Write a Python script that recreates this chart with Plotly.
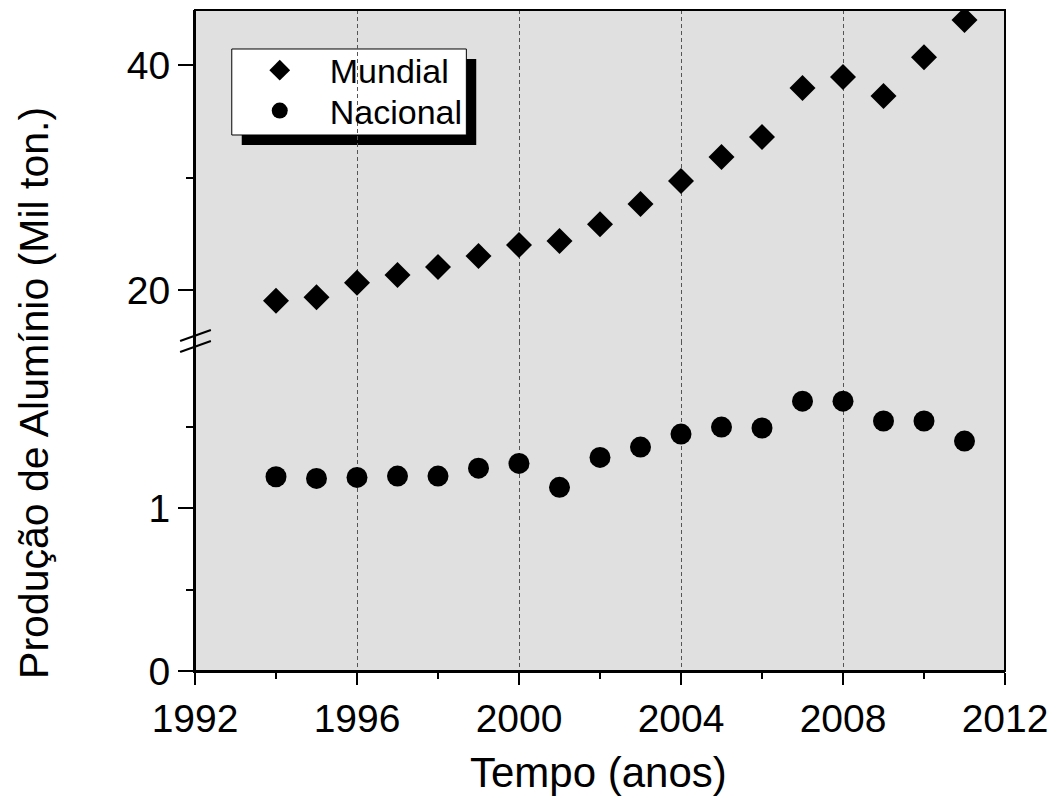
import plotly.graph_objects as go

# Annual aluminium production (thousand tonnes scale as labelled)
anos = [1994, 1995, 1996, 1997, 1998, 1999, 2000, 2001, 2002,
        2003, 2004, 2005, 2006, 2007, 2008, 2009, 2010, 2011]
mundial = [19.05, 19.35, 20.65, 21.33, 22.04, 23.02, 24.0, 24.36, 25.84,
           27.64, 29.69, 31.82, 33.6, 37.96, 38.93, 37.24, 40.68, 44.0]
nacional = [1.192, 1.182, 1.188, 1.196, 1.196, 1.245, 1.274, 1.127, 1.311,
            1.374, 1.454, 1.497, 1.491, 1.656, 1.656, 1.534, 1.534, 1.411]

x_ticks = [1992, 1996, 2000, 2004, 2008, 2012]
y_low_ticks = [0, 1]
y_low_minor = [0.5, 1.5]
y_high_ticks = [20, 40]
y_high_minor = [30]

FONT = "Liberation Sans, Arial, sans-serif"
BREAK = 0.4992          # fraction of plot height where the axis is broken
LOW_RANGE = [0, 2.025]
HIGH_RANGE = [15.47, 44.89]

fig = go.Figure()
fig.add_trace(go.Scatter(
    x=anos, y=mundial, mode="markers", name="Mundial",
    marker=dict(symbol="diamond", size=20, color="black"),
    xaxis="x", yaxis="y2", legend="legend"))
fig.add_trace(go.Scatter(
    x=anos, y=nacional, mode="markers", name="Nacional",
    marker=dict(symbol="circle", size=21, color="black"),
    xaxis="x", yaxis="y", legend="legend2"))

tick_font = dict(family=FONT, size=39, color="black")
legend_style = dict(
    xanchor="left", yanchor="middle",
    bgcolor="rgba(0,0,0,0)", borderwidth=0,
    font=dict(family=FONT, size=34, color="black"),
    itemsizing="trace", itemwidth=90,
)

fig.update_layout(
    width=1058, height=798,
    margin=dict(l=195, r=48, t=10, b=127),
    paper_bgcolor="white", plot_bgcolor="#e0e0e0",
    font=dict(family=FONT, color="black"),
    showlegend=True,
    legend=dict(x=0.0429, y=0.9084, **legend_style),
    legend2=dict(x=0.0429, y=0.8472, **legend_style),
    xaxis=dict(
        range=[1992, 2012], tickvals=x_ticks, anchor="y",
        ticks="outside", ticklen=12, tickwidth=2, tickcolor="black",
        tickfont=tick_font,
        showline=True, linewidth=2, linecolor="black",
        showgrid=True, gridcolor="#555555", gridwidth=1, griddash="4px,3px",
        zeroline=False,
        minor=dict(ticks="outside", ticklen=6, tickwidth=2, tickcolor="black",
                   dtick=2, tick0=1992, showgrid=False),
    ),
    yaxis=dict(
        domain=[0, BREAK], range=LOW_RANGE, tickvals=y_low_ticks,
        ticks="outside", ticklen=15, tickwidth=2, tickcolor="black",
        tickfont=tick_font, showline=True, linewidth=2, linecolor="black",
        showgrid=False, zeroline=False, anchor="x",
        minor=dict(tickvals=y_low_minor, ticks="outside", ticklen=7,
                   tickwidth=2, tickcolor="black", showgrid=False),
    ),
    yaxis2=dict(
        domain=[BREAK, 1], range=HIGH_RANGE, tickvals=y_high_ticks,
        ticks="outside", ticklen=15, tickwidth=2, tickcolor="black",
        tickfont=tick_font, showline=True, linewidth=2, linecolor="black",
        showgrid=False, zeroline=False, anchor="x",
        minor=dict(tickvals=y_high_minor, ticks="outside", ticklen=7,
                   tickwidth=2, tickcolor="black", showgrid=False),
    ),
    # inner halves of the major y ticks, so they cross the axis line
    yaxis3=dict(
        overlaying="y", range=LOW_RANGE, tickvals=y_low_ticks,
        ticks="inside", ticklen=16, tickwidth=2, tickcolor="black",
        showticklabels=False, showgrid=False, zeroline=False,
        showline=False, anchor="x", side="left",
    ),
    yaxis4=dict(
        overlaying="y2", range=HIGH_RANGE, tickvals=y_high_ticks,
        ticks="inside", ticklen=16, tickwidth=2, tickcolor="black",
        showticklabels=False, showgrid=False, zeroline=False,
        showline=False, anchor="x", side="left",
    ),
)

# frame around the plotting area
fig.add_shape(type="rect", xref="paper", yref="paper", x0=0, x1=1, y0=0, y1=1,
              line=dict(color="black", width=2), layer="above")

# axis-break marks on the left axis
for y0, y1 in [(BREAK, BREAK + 0.0166), (BREAK - 0.0166, BREAK)]:
    fig.add_shape(type="line", xref="paper", yref="paper",
                  x0=-0.0184, x1=0.0196, y0=y0, y1=y1,
                  line=dict(color="black", width=2), layer="above")

# legend panel: drop shadow, then the white box with a thin border
fig.add_shape(type="rect", xref="paper", yref="paper",
              x0=0.0577, x1=0.3472, y0=0.7958, y1=0.9259,
              fillcolor="black", line=dict(width=0), layer="below")
fig.add_shape(type="rect", xref="paper", yref="paper",
              x0=0.0454, x1=0.3350, y0=0.8109, y1=0.9410,
              fillcolor="white", line=dict(color="black", width=1), layer="below")

# axis titles
fig.add_annotation(text="Tempo (anos)", xref="paper", yref="paper",
                   x=0.498, y=-0.1528, xanchor="center", yanchor="middle",
                   showarrow=False, font=dict(family=FONT, size=42, color="black"))
fig.add_annotation(text="Produção de Alumínio (Mil ton.)", xref="paper", yref="paper",
                   x=-0.1988, y=0.4206, xanchor="center", yanchor="middle",
                   textangle=-90, showarrow=False,
                   font=dict(family=FONT, size=41, color="black"))

fig.write_html("out.html")
